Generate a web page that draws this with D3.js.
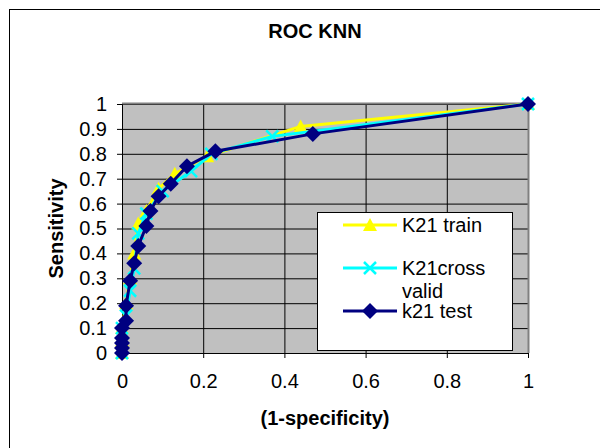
<!DOCTYPE html>
<html>
<head>
<meta charset="utf-8">
<script src="https://cdn.jsdelivr.net/npm/d3@7"></script>
<style>
  body { margin: 0; background: #fff; }
  svg { display: block; font-family: "Liberation Sans", Arial, sans-serif; }
</style>
</head>
<body>
<div id="chart"></div>
<script>
// Valores
const seriesNames = ["K21 train", "K21cross valid", "k21 test"];

const trainX = [0, 0, 0, 0.01, 0.02, 0.03, 0.04, 0.06, 0.09, 0.13, 0.21, 0.44, 1];
const trainY = [0, 0.05, 0.1, 0.2, 0.3, 0.4, 0.52, 0.57, 0.66, 0.72, 0.79, 0.91, 1];

const crossX = [0, 0, 0, 0.01, 0.02, 0.03, 0.04, 0.06, 0.1, 0.17, 0.22, 0.37, 1];
const crossY = [0, 0.04, 0.1, 0.15, 0.25, 0.34, 0.48, 0.56, 0.65, 0.73, 0.8, 0.87, 1];

const testX = [0, 0, 0, 0, 0, 0.01, 0.01, 0.02, 0.03, 0.04, 0.06, 0.07, 0.09, 0.12, 0.16, 0.23, 0.47, 1];
const testY = [0, 0.02, 0.04, 0.06, 0.1, 0.13, 0.19, 0.29, 0.36, 0.43, 0.51, 0.57, 0.63, 0.68, 0.75, 0.81, 0.88, 1];

const xTicks = [0, 0.2, 0.4, 0.6, 0.8, 1];
const yTicks = [0, 0.1, 0.2, 0.3, 0.4, 0.5, 0.6, 0.7, 0.8, 0.9, 1];

const width = 600;
const height = 448;
const margin = { top: 104, right: 72, bottom: 95, left: 122 };

const svg = d3.select("#chart")
    .append("svg")
    .attr("width", width)
    .attr("height", height);

// moldura da área do gráfico
svg.append("rect")
    .attr("x", 9.5).attr("y", 9.5)
    .attr("width", 700).attr("height", 600)
    .attr("fill", "#fff")
    .attr("stroke", "#000")
    .attr("stroke-width", 1);

const xScale = d3.scaleLinear()
    .domain([0, 1])
    .range([margin.left, width - margin.right]);

const yScale = d3.scaleLinear()
    .domain([0, 1])
    .range([height - margin.bottom, margin.top]);

const x0 = xScale(0), x1 = xScale(1), y0 = yScale(0), y1 = yScale(1);

svg.append("rect")
    .attr("x", x0).attr("y", y1)
    .attr("width", x1 - x0).attr("height", y0 - y1)
    .attr("fill", "#c0c0c0");

// grades
svg.append("g")
    .attr("transform", `translate(${x0},0)`)
    .call(d3.axisLeft(yScale).tickValues(yTicks).tickSize(-(x1 - x0)).tickFormat(""))
    .call(g => g.select(".domain").remove())
    .selectAll("line").attr("stroke", "#000");

svg.append("g")
    .attr("transform", `translate(0,${y1})`)
    .call(d3.axisTop(xScale).tickValues(xTicks.slice(1, -1)).tickSize(-(y0 - y1)).tickFormat(""))
    .call(g => g.select(".domain").remove())
    .selectAll("line").attr("stroke", "#000");

// bordas superior e direita
svg.append("path")
    .attr("d", `M${x0},${y1 - 0.5}H${x1 + 0.5}V${y0}`)
    .attr("fill", "none")
    .attr("stroke", "#808080")
    .attr("stroke-width", 2);

// eixos
const yAxis = svg.append("g")
    .attr("transform", `translate(${x0},0)`)
    .call(d3.axisLeft(yScale).tickValues(yTicks).tickSize(5).tickPadding(10).tickFormat(d3.format("")));
yAxis.selectAll("text").style("font-size", "20px").attr("fill", "#000");
yAxis.selectAll("line, path").attr("stroke", "#000");

const xAxis = svg.append("g")
    .attr("transform", `translate(0,${y0})`)
    .call(d3.axisBottom(xScale).tickValues(xTicks).tickSize(5).tickPadding(16).tickFormat(d3.format("")));
xAxis.selectAll("text").style("font-size", "20px").attr("fill", "#000");
xAxis.selectAll("line, path").attr("stroke", "#000");

// títulos
svg.append("text")
    .attr("x", 315).attr("y", 38)
    .attr("text-anchor", "middle")
    .style("font-size", "20px").style("font-weight", "bold")
    .text("ROC KNN");

svg.append("text")
    .attr("x", (x0 + x1) / 2).attr("y", 425)
    .attr("text-anchor", "middle")
    .style("font-size", "20px").style("font-weight", "bold")
    .text("(1-specificity)");

svg.append("text")
    .attr("transform", `translate(63,${(y0 + y1) / 2}) rotate(-90)`)
    .attr("text-anchor", "middle")
    .style("font-size", "20px").style("font-weight", "bold")
    .text("Sensitivity");

// séries
const series = [
    { name: seriesNames[0], xs: trainX, ys: trainY, color: "#ffff00", marker: "triangle" },
    { name: seriesNames[1], xs: crossX, ys: crossY, color: "#00ffff", marker: "cross" },
    { name: seriesNames[2], xs: testX, ys: testY, color: "#000080", marker: "diamond" }
];

const line = d3.line().x(d => xScale(d[0])).y(d => yScale(d[1]));

function drawMarker(g, type, color) {
    if (type === "triangle") {
        g.append("path").attr("d", "M0,-7L7,6L-7,6Z").attr("fill", color);
    } else if (type === "cross") {
        g.append("path").attr("d", "M-6,-6L6,6M-6,6L6,-6")
            .attr("stroke", color).attr("stroke-width", 2.5).attr("fill", "none");
    } else {
        g.append("path").attr("d", "M0,-8L8,0L0,8L-8,0Z").attr("fill", color);
    }
}

series.forEach(s => {
    const pts = s.xs.map((x, i) => [x, s.ys[i]]);
    svg.append("path")
        .datum(pts)
        .attr("fill", "none")
        .attr("stroke", s.color)
        .attr("stroke-width", 3)
        .attr("d", line);
    svg.append("g").selectAll("g")
        .data(pts)
        .enter()
        .append("g")
        .attr("transform", d => `translate(${xScale(d[0])},${yScale(d[1])})`)
        .each(function () { drawMarker(d3.select(this), s.marker, s.color); });
});

// legenda
const legend = svg.append("g");
legend.append("rect")
    .attr("x", 317.5).attr("y", 212.5)
    .attr("width", 195).attr("height", 138)
    .attr("fill", "#fff").attr("stroke", "#000");

const legendY = [225, 268, 311];
series.forEach((s, i) => {
    const y = legendY[i];
    legend.append("line")
        .attr("x1", 343).attr("x2", 397).attr("y1", y).attr("y2", y)
        .attr("stroke", s.color).attr("stroke-width", 3);
    drawMarker(legend.append("g").attr("transform", `translate(370,${y})`), s.marker, s.color);
});

legend.append("text").attr("x", 402).attr("y", 232).style("font-size", "20px").text("K21 train");
legend.append("text").attr("x", 402).attr("y", 275).style("font-size", "20px").text("K21cross");
legend.append("text").attr("x", 402).attr("y", 298).style("font-size", "20px").text("valid");
legend.append("text").attr("x", 402).attr("y", 318).style("font-size", "20px").text("k21 test");
</script>
</body>
</html>
